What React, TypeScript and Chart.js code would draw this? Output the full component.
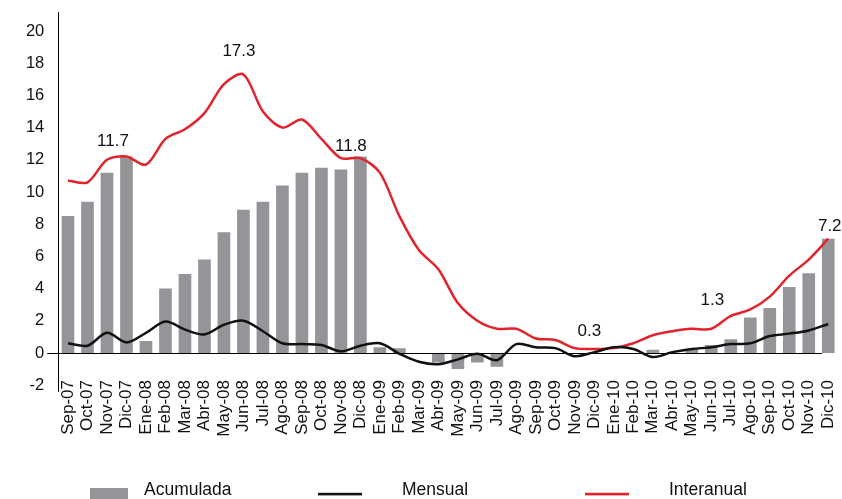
import { useEffect, useRef } from 'react';
import { Chart, registerables } from 'chart.js';

Chart.register(...registerables);

const FONT = '"Liberation Sans", Arial, Helvetica, sans-serif';

const categories = [
  'Sep-07', 'Oct-07', 'Nov-07', 'Dic-07',
  'Ene-08', 'Feb-08', 'Mar-08', 'Abr-08', 'May-08', 'Jun-08', 'Jul-08', 'Ago-08', 'Sep-08', 'Oct-08', 'Nov-08', 'Dic-08',
  'Ene-09', 'Feb-09', 'Mar-09', 'Abr-09', 'May-09', 'Jun-09', 'Jul-09', 'Ago-09', 'Sep-09', 'Oct-09', 'Nov-09', 'Dic-09',
  'Ene-10', 'Feb-10', 'Mar-10', 'Abr-10', 'May-10', 'Jun-10', 'Jul-10', 'Ago-10', 'Sep-10', 'Oct-10', 'Nov-10', 'Dic-10',
];

const acumulada = [
  8.5, 9.4, 11.2, 12.2,
  0.75, 4.0, 4.9, 5.8, 7.5, 8.9, 9.4, 10.4, 11.2, 11.5, 11.4, 12.2,
  0.35, 0.3, 0, -0.6, -1.0, -0.6, -0.85, 0, 0, 0, 0, 0,
  0, 0, 0.2, 0, 0.25, 0.5, 0.85, 2.2, 2.8, 4.1, 4.95, 7.1,
];

const mensual = [
  0.6, 0.45, 1.25, 0.65,
  1.25, 1.95, 1.45, 1.15, 1.75, 2.0, 1.35, 0.6, 0.55, 0.5, 0.1, 0.45,
  0.6, -0.05, -0.55, -0.7, -0.4, -0.05, -0.45, 0.55, 0.35, 0.3, -0.2, 0.05,
  0.35, 0.25, -0.25, 0.05, 0.25, 0.35, 0.55, 0.6, 1.05, 1.2, 1.4, 1.8,
];

const interanual = [
  10.7, 10.6, 12.0, 12.2,
  11.7, 13.3, 13.9, 14.9, 16.7, 17.3, 15.0, 14.0, 14.5, 13.3, 12.1, 12.1,
  11.2, 8.5, 6.4, 5.2, 3.1, 2.0, 1.5, 1.5, 0.9, 0.8, 0.3, 0.25,
  0.3, 0.6, 1.1, 1.35, 1.5, 1.5, 2.3, 2.7, 3.5, 4.8, 5.8, 7.1,
];

const yTickValues = [-2, 0, 2, 4, 6, 8, 10, 12, 14, 16, 18, 20];

// value annotations on the Interanual line: category index and shown text
const labelIndexes = [2, 9, 15, 27, 33, 39];
const labelTexts = ['11.7', '17.3', '11.8', '0.3', '1.3', '7.2'];
// pixel offsets of each annotation relative to its point (style)
const labelOffsets = [
  [6, -18], [-4.5, -23.5], [-9.5, -12], [-5, -18], [1, -28], [1.5, -12],
];

const legendLayout = [
  { markX: 90, markW: 38, textX: 144 },
  { markX: 318, markW: 44, textX: 402 },
  { markX: 585, markW: 44, textX: 669 },
];

const GRAY = '#939598';
const RED = '#e2232c';
const BLACK = '#111111';

const decorations = {
  id: 'decorations',
  afterDatasetDraw(chart: any, args: any) {
    if (args.meta.type !== 'bar') return;
    const { ctx, chartArea } = chart;
    const y = chart.scales.y;
    const x = chart.scales.x;
    const meta = chart.getDatasetMeta(0);
    const last = meta.data[meta.data.length - 1];
    const half = last ? last.width / 2 : 7;
    const y0 = Math.round(y.getPixelForValue(0)) + 0.5;
    ctx.save();
    ctx.strokeStyle = '#000';
    ctx.lineWidth = 1;
    ctx.beginPath();
    ctx.moveTo(chartArea.left - 11, y0);
    ctx.lineTo(x.getPixelForValue(categories.length - 1) - half, y0);
    ctx.stroke();
    ctx.restore();
  },
  afterDraw(chart: any) {
    const { ctx, chartArea } = chart;
    ctx.save();
    // vertical axis line (extends a little below the plot)
    const ax = Math.round(chartArea.left) + 0.5;
    ctx.strokeStyle = '#000';
    ctx.lineWidth = 1;
    ctx.beginPath();
    ctx.moveTo(ax, chartArea.top);
    ctx.lineTo(ax, chartArea.bottom + 12);
    ctx.stroke();
    // annotations
    const meta = chart.getDatasetMeta(2);
    ctx.font = `17px ${FONT}`;
    ctx.fillStyle = '#111';
    ctx.textAlign = 'center';
    ctx.textBaseline = 'middle';
    labelIndexes.forEach((idx, i) => {
      const pt = meta.data[idx];
      if (!pt) return;
      ctx.fillText(labelTexts[i], pt.x + labelOffsets[i][0], pt.y + labelOffsets[i][1]);
    });
    // legend
    ctx.font = `17.5px ${FONT}`;
    ctx.textAlign = 'left';
    ctx.textBaseline = 'alphabetic';
    chart.data.datasets.forEach((ds: any, i: number) => {
      const lay = legendLayout[i];
      if (ds.type === 'bar') {
        ctx.fillStyle = ds.backgroundColor;
        ctx.fillRect(lay.markX, 488, lay.markW, 14);
      } else {
        ctx.fillStyle = ds.borderColor;
        ctx.fillRect(lay.markX, 492.8, lay.markW, 2.6);
      }
      ctx.fillStyle = '#111';
      ctx.fillText(ds.label, lay.textX, 495);
    });
    ctx.restore();
  },
};

export default function App() {
  const canvasRef = useRef<HTMLCanvasElement | null>(null);

  useEffect(() => {
    if (!canvasRef.current) return;
    const chart = new Chart(canvasRef.current, {
      type: 'bar',
      data: {
        labels: categories,
        datasets: [
          {
            type: 'bar',
            label: 'Acumulada',
            data: acumulada,
            backgroundColor: GRAY,
            borderWidth: 0,
            barPercentage: 0.65,
            categoryPercentage: 1,
            order: 3,
          },
          {
            type: 'line',
            label: 'Mensual',
            data: mensual,
            borderColor: BLACK,
            backgroundColor: BLACK,
            borderWidth: 2.5,
            pointRadius: 0,
            tension: 0.32,
            fill: false,
            order: 1,
          },
          {
            type: 'line',
            label: 'Interanual',
            data: interanual,
            borderColor: RED,
            backgroundColor: RED,
            borderWidth: 2.5,
            pointRadius: 0,
            tension: 0.3,
            fill: false,
            order: 2,
          },
        ] as any,
      },
      options: {
        animation: false,
        responsive: false,
        devicePixelRatio: 1,
        layout: { padding: { top: 12, right: 4, left: 0, bottom: 0 } },
        plugins: {
          legend: { display: false },
          tooltip: { enabled: false },
        },
        scales: {
          x: {
            type: 'category',
            offset: true,
            grid: { display: false, drawTicks: false },
            border: { display: false },
            ticks: {
              autoSkip: false,
              maxRotation: 90,
              minRotation: 90,
              padding: 0,
              color: '#111',
              font: { family: FONT, size: 17 },
            },
            afterFit: (s: any) => {
              s.height = 119;
              s.paddingLeft = 0;
              s.paddingRight = 0;
            },
          },
          y: {
            type: 'linear',
            min: -1.68,
            max: 21.18,
            grid: { display: false, drawTicks: false },
            border: { display: false },
            ticks: {
              padding: 14,
              color: '#111',
              font: { family: FONT, size: 16.5 },
            },
            afterBuildTicks: (s: any) => {
              s.ticks = yTickValues.map((v) => ({ value: v }));
            },
            afterFit: (s: any) => {
              s.width = 58.25;
              s.paddingTop = 0;
              s.paddingBottom = 0;
            },
          },
        },
      } as any,
      plugins: [decorations],
    });
    return () => chart.destroy();
  }, []);

  return (
    <div style={{ position: 'fixed', left: 0, top: 0, width: 842, height: 499, background: '#fff' }}>
      <canvas ref={canvasRef} width={842} height={499} style={{ display: 'block' }} />
    </div>
  );
}
